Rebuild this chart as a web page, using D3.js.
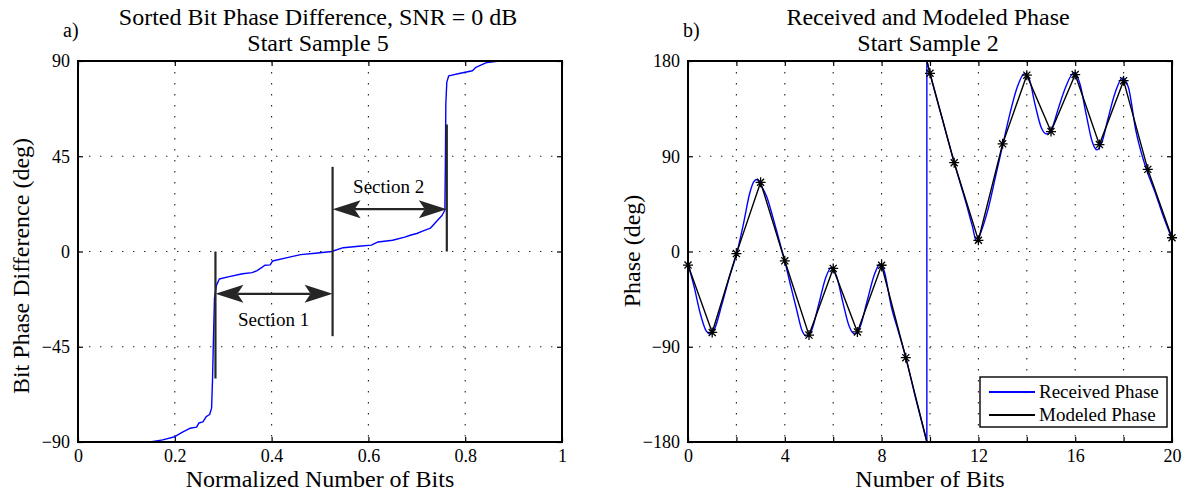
<!DOCTYPE html>
<html>
<head>
<meta charset="utf-8">
<script src="https://cdn.jsdelivr.net/npm/d3@7"></script>
<style>
  body { margin: 0; background: #fff; }
  svg text { font-family: "Liberation Serif", "Times New Roman", serif; fill: #000; }
</style>
</head>
<body>
<div id="chart"></div>
<script>
// ---- panel a: sorted bit phase difference ----
const sortedBits = [0.149, 0.175, 0.2, 0.215, 0.232, 0.245, 0.25, 0.258, 0.265, 0.272, 0.276, 0.278, 0.28, 0.282,
    0.286, 0.292, 0.31, 0.34, 0.36, 0.37, 0.38, 0.386, 0.397, 0.402, 0.43, 0.46, 0.49, 0.524, 0.548, 0.58,
    0.606, 0.62, 0.65, 0.675, 0.688, 0.7, 0.712, 0.728, 0.742, 0.752, 0.758, 0.759, 0.76, 0.762, 0.766,
    0.79, 0.815, 0.822, 0.83, 0.845, 0.87];
const sortedPhase = [-90, -89, -87.5, -85.5, -83.5, -83, -81, -80.5, -78, -77, -74, -60, -40, -22,
    -16, -13, -12, -10.5, -10, -9, -7.5, -6.5, -6.3, -4.5, -3, -1.5, -0.8, 0, 1.8, 2.5,
    3, 4.5, 5.3, 6.8, 7.8, 8.5, 9.6, 11, 14.5, 17, 19.5, 40, 70, 80, 83,
    84.2, 85.4, 87, 87.8, 89.3, 90];

const markerX = [0.284, 0.526, 0.762];
const markerTop = [0, 40, 60];
const markerBottom = [-60, -40, 0];

const sectionNames = ["Section 1", "Section 2"];
const sectionFrom = [0.284, 0.526];
const sectionTo = [0.526, 0.762];
const sectionArrowY = [-20, 20];
const sectionTextX = [0.404, 0.642];
const sectionTextY = [-35, 27.5];

const xTicksA = [0, 0.2, 0.4, 0.6, 0.8, 1];
const yTicksA = [-90, -45, 0, 45, 90];

// ---- panel b: received and modeled phase ----
const modeledBits = [0, 1, 2, 3, 4, 5, 6, 7, 8, 9, 10, 11, 12, 13, 14, 15, 16, 17, 18, 19, 20];
const modeledPhase = [-12.8, -76.5, -2, 65.4, -8.8, -79, -16, -76, -13, -100.3,
    168.4, 83.9, 10.6, 101.7, 166.6, 113.3, 167.2, 101, 161.4, 77.6, 13];

const receivedBits = [0, 0.25, 0.5, 0.75, 0.92, 1.1, 1.4, 1.7, 2, 2.3, 2.55, 2.72, 2.85, 3, 3.25, 3.5, 3.75,
    4, 4.25, 4.5, 4.7, 4.9, 5.1, 5.4, 5.7, 5.93, 6.15, 6.4, 6.65, 6.88, 7.1, 7.4, 7.7, 7.93, 8.1, 8.4,
    8.7, 9, 9.4, 9.87,
    9.87, 10, 10.5, 11, 11.5, 11.75, 11.93, 12.1, 12.4, 12.7, 13, 13.3, 13.6, 13.9, 14.1, 14.35, 14.6,
    14.83, 15.05, 15.3, 15.6, 15.95, 16.2, 16.45, 16.7, 16.9, 17.1, 17.35, 17.65, 17.95, 18.2, 18.5,
    18.8, 19, 19.3, 19.6, 20];
const receivedPhase = [-12, -33, -58, -75, -78, -73, -50, -25, -3, 27, 55, 66, 68, 63, 52, 33, 12,
    -9, -33, -56, -74, -80, -75, -50, -24, -15, -24, -48, -70, -78, -72, -47, -22, -12, -18, -52,
    -76, -100, -138, -180,
    180, 168, 126, 84, 45, 24, 9, 18, 40, 70, 100, 130, 155, 168, 163, 138, 117,
    111, 117, 135, 155, 169, 158, 130, 104, 96, 103, 125, 150, 164, 155, 115,
    88, 74, 56, 36, 12];

const xTicksB = [0, 2, 4, 6, 8, 10, 12, 14, 16, 18, 20];
const yTicksB = [-180, -90, 0, 90, 180];
const legendNames = ["Received Phase", "Modeled Phase"];

const W = 1189, H = 497;
const plotTop = 61, plotBottom = 442;

const svg = d3.select("#chart").append("svg")
    .attr("width", W)
    .attr("height", H)
    .style("background", "#fff");

// split a wrapped phase series wherever it jumps by more than 180 deg
function splitWrapped(xs, ys, interpolateCross) {
    const segs = [[]];
    for (let i = 0; i < xs.length; i++) {
        if (i > 0 && Math.abs(ys[i] - ys[i - 1]) > 180) {
            if (interpolateCross) {
                const edge = ys[i - 1] < 0 ? -180 : 180;
                const next = ys[i] + (ys[i - 1] < 0 ? -360 : 360);
                const t = (edge - ys[i - 1]) / (next - ys[i - 1]);
                const xc = xs[i - 1] + t * (xs[i] - xs[i - 1]);
                segs[segs.length - 1].push([xc, edge]);
                segs.push([[xc, -edge]]);
            } else {
                segs.push([]);
            }
        }
        segs[segs.length - 1].push([xs[i], ys[i]]);
    }
    return segs;
}

function drawFrame(g, x, y, xTicks, yTicks, xFmt, name) {
    const left = x.range()[0], right = x.range()[1];

    // dotted grid
    g.append("g").selectAll("line.gx")
        .data(xTicks.filter(d => d !== x.domain()[0] && d !== x.domain()[1]))
        .enter().append("line")
        .attr("x1", d => x(d)).attr("x2", d => x(d))
        .attr("y1", plotTop).attr("y2", plotBottom)
        .attr("stroke", "#222").attr("stroke-width", 1.1)
        .attr("stroke-dasharray", "1.4 9.6");
    g.append("g").selectAll("line.gy")
        .data(yTicks.filter(d => d !== y.domain()[0] && d !== y.domain()[1]))
        .enter().append("line")
        .attr("x1", left).attr("x2", right)
        .attr("y1", d => y(d)).attr("y2", d => y(d))
        .attr("stroke", "#222").attr("stroke-width", 1.1)
        .attr("stroke-dasharray", "1.4 9.6");

    g.append("g")
        .attr("transform", `translate(0,${plotBottom})`)
        .call(d3.axisBottom(x).tickValues(xTicks).tickSize(-5).tickSizeOuter(0).tickPadding(7).tickFormat(xFmt));
    g.append("g")
        .attr("transform", `translate(0,${plotTop})`)
        .call(d3.axisTop(x).tickValues(xTicks).tickSize(-5).tickSizeOuter(0).tickFormat(""));
    g.append("g")
        .attr("transform", `translate(${left},0)`)
        .call(d3.axisLeft(y).tickValues(yTicks).tickSize(-5).tickSizeOuter(0).tickPadding(8));
    g.append("g")
        .attr("transform", `translate(${right},0)`)
        .call(d3.axisRight(y).tickValues(yTicks).tickSize(-5).tickSizeOuter(0).tickFormat(""));

    g.selectAll(".domain").remove();
    g.selectAll(".tick line").attr("stroke", "#000").attr("stroke-width", 1.2);
    g.selectAll(".tick text").style("font-size", "18px").attr("fill", "#000")
        .style("font-family", '"Liberation Serif", serif');

    g.append("clipPath").attr("id", "clip-" + name)
        .append("rect")
        .attr("x", left).attr("y", plotTop)
        .attr("width", right - left).attr("height", plotBottom - plotTop);
}

function drawBox(g, x) {
    g.append("rect")
        .attr("x", x.range()[0]).attr("y", plotTop)
        .attr("width", x.range()[1] - x.range()[0]).attr("height", plotBottom - plotTop)
        .attr("fill", "none").attr("stroke", "#000").attr("stroke-width", 2);
}

function drawTitles(g, cx, line1, line2, tag, tagX, yLabel, yLabelX, yLabelY, xLabel) {
    g.append("text").attr("x", cx).attr("y", 25).attr("text-anchor", "middle")
        .style("font-size", "24px").text(line1);
    g.append("text").attr("x", cx).attr("y", 51).attr("text-anchor", "middle")
        .style("font-size", "24px").text(line2);
    g.append("text").attr("x", tagX).attr("y", 37).style("font-size", "20px").text(tag);
    g.append("text").attr("transform", `translate(${yLabelX},${yLabelY}) rotate(-90)`)
        .attr("text-anchor", "middle").style("font-size", "24px").text(yLabel);
    g.append("text").attr("x", (cx > 600 ? 930 : 320)).attr("y", 487).attr("text-anchor", "middle")
        .style("font-size", "24px").text(xLabel);
}

// ================= Panel a =================
function drawPanelA() {
    const g = svg.append("g");
    const x = d3.scaleLinear().domain([0, 1]).range([78, 562]);
    const y = d3.scaleLinear().domain([-90, 90]).range([plotBottom, plotTop]);

    drawFrame(g, x, y, xTicksA, yTicksA, d3.format("~g"), "a");

    const pts = sortedBits.map((b, i) => [b, sortedPhase[i]]);
    g.append("path")
        .datum(pts)
        .attr("clip-path", "url(#clip-a)")
        .attr("fill", "none")
        .attr("stroke", "#0000ff")
        .attr("stroke-width", 1.4)
        .attr("stroke-linejoin", "round")
        .attr("d", d3.line().x(d => x(d[0])).y(d => y(d[1])));

    const ink = "#262626";
    // vertical section markers
    g.selectAll("line.marker")
        .data(markerX)
        .enter().append("line")
        .attr("x1", d => x(d)).attr("x2", d => x(d))
        .attr("y1", (d, i) => y(markerTop[i]))
        .attr("y2", (d, i) => y(markerBottom[i]))
        .attr("stroke", ink).attr("stroke-width", 2.2);

    // double arrows
    const L = 28, hw = 9, notch = 22;
    const head = `M0,0 L${-L},${-hw} L${-notch},0 L${-L},${hw} Z`;
    sectionNames.forEach((name, i) => {
        const x0 = x(sectionFrom[i]), x1 = x(sectionTo[i]), yy = y(sectionArrowY[i]);
        g.append("line")
            .attr("x1", x0 + notch).attr("x2", x1 - notch)
            .attr("y1", yy).attr("y2", yy)
            .attr("stroke", ink).attr("stroke-width", 2.2);
        g.append("path").attr("d", head).attr("fill", ink)
            .attr("transform", `translate(${x1},${yy})`);
        g.append("path").attr("d", head).attr("fill", ink)
            .attr("transform", `translate(${x0},${yy}) rotate(180)`);
        g.append("text")
            .attr("x", x(sectionTextX[i])).attr("y", y(sectionTextY[i]))
            .attr("text-anchor", "middle")
            .style("font-size", "19px")
            .text(name);
    });

    drawBox(g, x);
    drawTitles(g, 318, "Sorted Bit Phase Difference, SNR = 0 dB", "Start Sample 5", "a)", 63,
        "Bit Phase Difference (deg)", 29, 266, "Normalized Number of Bits");
}

// ================= Panel b =================
function drawPanelB() {
    const g = svg.append("g");
    const x = d3.scaleLinear().domain([0, 20]).range([688, 1172]);
    const y = d3.scaleLinear().domain([-180, 180]).range([plotBottom, plotTop]);

    drawFrame(g, x, y, xTicksB, yTicksB, d => (d % 4 === 0 ? d : ""), "b");

    const data = g.append("g").attr("clip-path", "url(#clip-b)");

    // received phase: smooth pieces joined by the wrap jump
    const recSegs = splitWrapped(receivedBits, receivedPhase, false);
    const smooth = d3.line().x(d => x(d[0])).y(d => y(d[1])).curve(d3.curveMonotoneX);
    const straight = d3.line().x(d => x(d[0])).y(d => y(d[1]));
    recSegs.forEach((seg, i) => {
        data.append("path").datum(seg)
            .attr("fill", "none").attr("stroke", "#0000ff").attr("stroke-width", 1.4)
            .attr("d", smooth);
        if (i > 0) {
            const prev = recSegs[i - 1];
            data.append("path").datum([prev[prev.length - 1], seg[0]])
                .attr("fill", "none").attr("stroke", "#0000ff").attr("stroke-width", 1.4)
                .attr("d", straight);
        }
    });

    // modeled phase: straight segments, wrapped at +/-180
    const modSegs = splitWrapped(modeledBits, modeledPhase, true);
    modSegs.forEach(seg => {
        data.append("path").datum(seg)
            .attr("fill", "none").attr("stroke", "#000").attr("stroke-width", 1.4)
            .attr("d", straight);
    });

    // asterisk markers
    const asterisk = {
        draw(ctx, size) {
            const r = Math.sqrt(size) / 2, d = r * 0.7071;
            ctx.moveTo(-r, 0); ctx.lineTo(r, 0);
            ctx.moveTo(0, -r); ctx.lineTo(0, r);
            ctx.moveTo(-d, -d); ctx.lineTo(d, d);
            ctx.moveTo(-d, d); ctx.lineTo(d, -d);
        }
    };
    g.selectAll("path.star")
        .data(modeledBits)
        .enter().append("path")
        .attr("d", d3.symbol(asterisk, 100))
        .attr("transform", (d, i) => `translate(${x(d)},${y(modeledPhase[i])})`)
        .attr("fill", "none").attr("stroke", "#000").attr("stroke-width", 1.3);

    drawBox(g, x);
    drawTitles(g, 928, "Received and Modeled Phase", "Start Sample 2", "b)", 683,
        "Phase (deg)", 640, 251, "Number of Bits");

    // legend
    const lg = g.append("g").attr("transform", "translate(980,377)");
    lg.append("rect").attr("width", 187).attr("height", 50)
        .attr("fill", "#fff").attr("stroke", "#000").attr("stroke-width", 1.4);
    const colors = ["#0000ff", "#000"];
    legendNames.forEach((name, i) => {
        lg.append("line").attr("x1", 9).attr("x2", 55)
            .attr("y1", 15 + i * 23).attr("y2", 15 + i * 23)
            .attr("stroke", colors[i]).attr("stroke-width", 2);
        lg.append("text").attr("x", 59).attr("y", 21 + i * 23)
            .style("font-size", "19px").text(name);
    });
}

drawPanelA();
drawPanelB();
</script>
</body>
</html>
